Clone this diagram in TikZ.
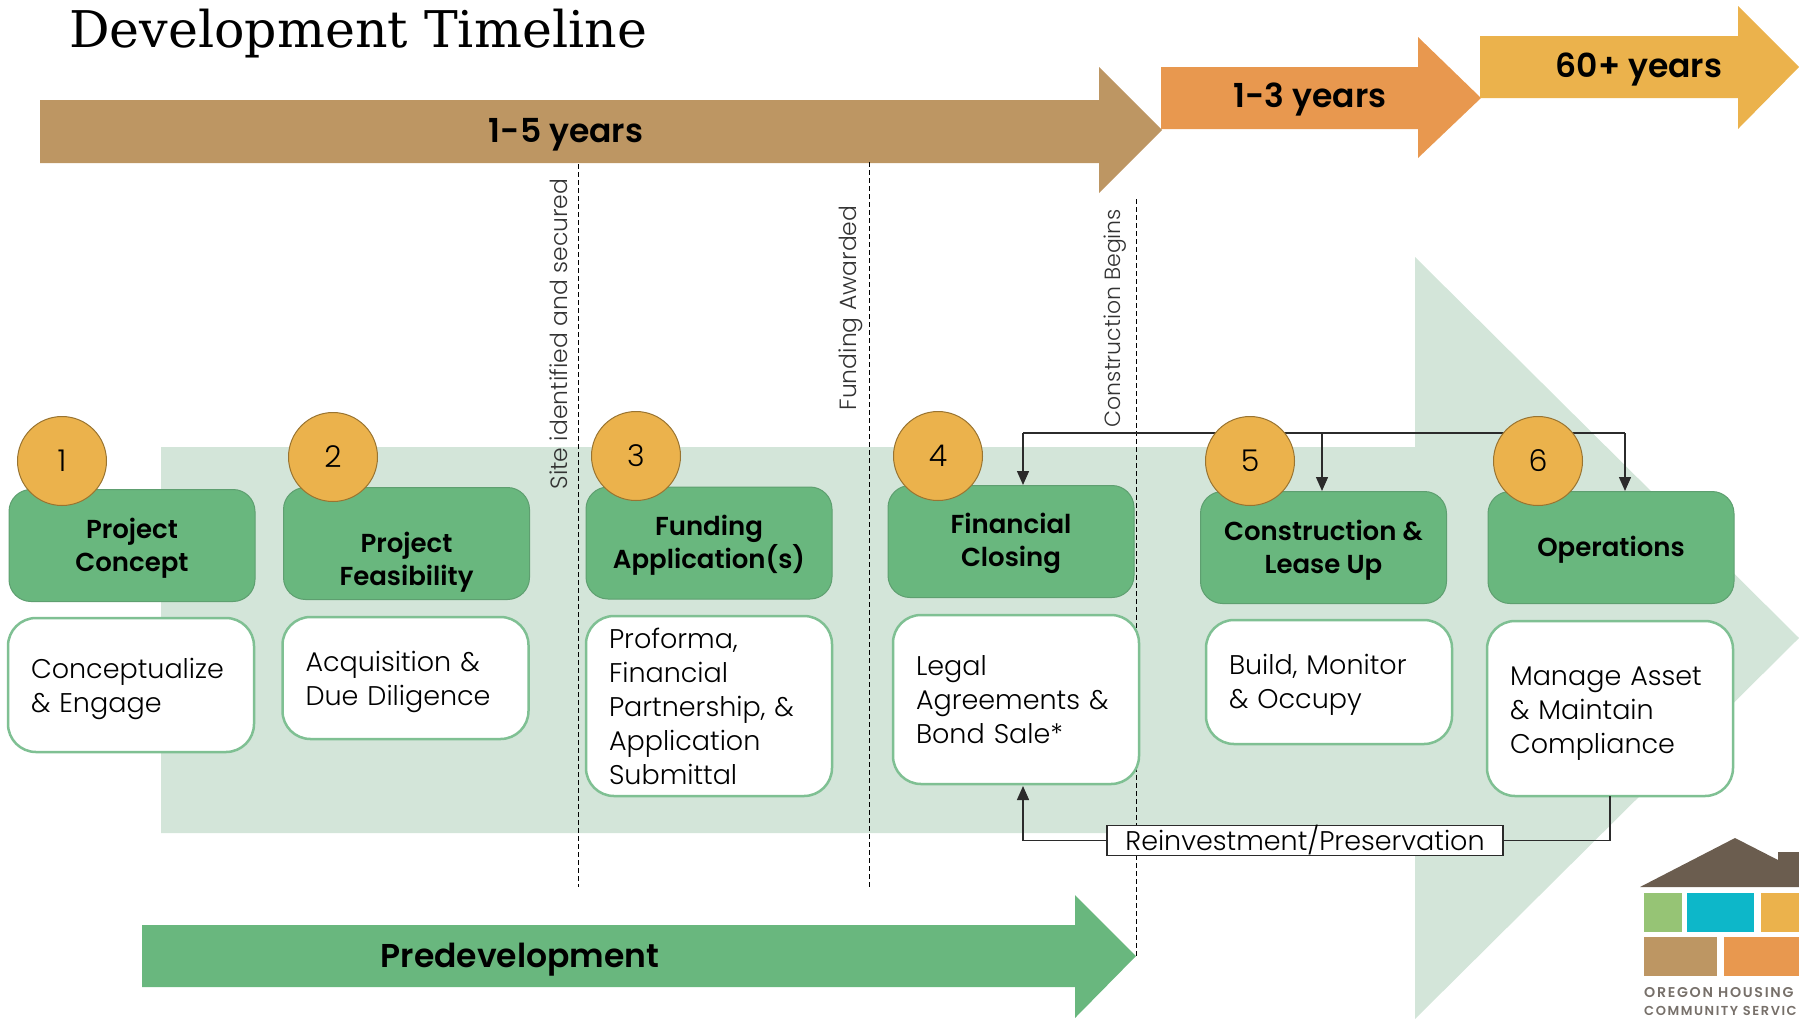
\documentclass[tikz,border=0pt]{standalone}
\usepackage{fontspec}
\usetikzlibrary{arrows.meta}
\setmainfont{Poppins}[UprightFont=* Light,BoldFont=* SemiBold]
\newfontfamily\titlefont{DejaVu Serif}
\newfontfamily\logofont{Poppins}[UprightFont=* SemiBold,LetterSpace=12]
\definecolor{palegreen}{HTML}{D3E5D9}
\definecolor{stagegreen}{HTML}{69B77E}
\definecolor{edgegreen}{HTML}{5E9F70}
\definecolor{boxedge}{HTML}{7FC093}
\definecolor{barbrown}{HTML}{BD9663}
\definecolor{barorange}{HTML}{E8984F}
\definecolor{baryellow}{HTML}{EBB24C}
\definecolor{roofbrown}{HTML}{6B5D4F}
\definecolor{logogreen}{HTML}{96C475}
\definecolor{logoteal}{HTML}{0DB7C9}
\definecolor{logotext}{HTML}{77706A}
\definecolor{wirecol}{HTML}{2B2B2B}
\begin{document}
\begin{tikzpicture}[x=1pt, y=-1pt,
    stagebox/.style = {draw=edgegreen, fill=stagegreen, rounded corners=22pt, line width=1pt, minimum width=246pt, minimum height=112pt, inner sep=0pt, align=center, font=\fontsize{26}{33}\selectfont\bfseries},
    detailbox/.style = {draw=boxedge, fill=white, rounded corners=28pt, line width=2.5pt, inner xsep=23pt, inner ysep=0pt, text width=200pt, align=left, font=\fontsize{27}{34}\selectfont},
    numdot/.style = {draw=black!35!baryellow, fill=baryellow, circle, minimum size=89pt, inner sep=0pt, line width=1pt, font=\fontsize{30}{36}\selectfont},
    barlabel/.style = {inner sep=0pt, font=\fontsize{33}{38}\selectfont\bfseries},
    milestone/.style = {rotate=90, inner sep=0pt, text=black!80, font=\fontsize{23.5}{28}\selectfont},
    marker/.style = {line width=1pt, dash pattern=on 5pt off 3pt},
    wire/.style = {draw=wirecol, line width=1.4pt},
    flow/.style = {wire, -{Triangle[length=14pt,width=12pt]}}]
  \useasboundingbox (0,0) rectangle (1799,1018);
  \fill[palegreen] (161,447) -- (1415,447) -- (1415,257) -- (1799,638) -- (1415,1019) -- (1415,833) -- (161,833) -- cycle;
  \node[inner sep=0pt, anchor=west, font=\titlefont\fontsize{50.6}{56}\selectfont] (title) at (69,34) {Development Timeline};
  \fill[barbrown] (40,100) -- (1099,100) -- (1099,67) -- (1162,130) -- (1099,193) -- (1099,163) -- (40,163) -- cycle;
  \fill[barorange] (1161,67) -- (1418,67) -- (1418,37) -- (1481,98) -- (1418,158) -- (1418,129) -- (1161,129) -- cycle;
  \fill[baryellow] (1480,36) -- (1738,36) -- (1738,6) -- (1799,67) -- (1738,129) -- (1738,98) -- (1480,98) -- cycle;
  \fill[stagegreen] (142,925) -- (1075,925) -- (1075,895) -- (1136,956) -- (1075,1018) -- (1075,987) -- (142,987) -- cycle;
  \node[barlabel] (years5) at (566,135) {1-5 years};
  \node[barlabel] (years3) at (1310,100) {1-3 years};
  \node[barlabel] (years60) at (1639,70) {60+ years};
  \node[barlabel] (predev) at (520,960) {Predevelopment};
  \coordinate (site top) at (578,164);
  \coordinate (site end) at (578,887);
  \coordinate (award top) at (869,162);
  \coordinate (award end) at (869,887);
  \coordinate (build top) at (1136,199);
  \coordinate (build end) at (1136,956);
  \draw[marker] (site top) -- (site end);
  \draw[marker] (award top) -- (award end);
  \draw[marker] (build top) -- (build end);
  \node[milestone] (site) at (559,334) {Site identified and secured};
  \node[milestone] (award) at (851,308) {Funding Awarded};
  \node[milestone, font=\fontsize{22}{28}\selectfont] (build) at (1115,318) {Construction Begins};
  \node[stagebox] (concept) at (132,545.5) {\rule{0pt}{25pt}Project\\Concept};
  \node[stagebox] (feasible) at (406.5,543.5) {\rule{0pt}{58pt}Project\\Feasibility};
  \node[stagebox] (funding) at (709,543) {\rule{0pt}{25pt}Funding\\Application(s)};
  \node[stagebox] (closing) at (1011,541.5) {\rule{0pt}{25pt}Financial\\Closing};
  \node[stagebox] (lease) at (1323.5,547.5) {\rule{0pt}{25pt}Construction \&\\Lease Up};
  \node[stagebox] (operate) at (1611,547.5) {\rule{0pt}{25pt}Operations};
  \node[detailbox, minimum height=134pt] (engage) at (131,685) {\rule{0pt}{28pt}Conceptualize\\\& Engage};
  \node[detailbox, minimum height=122pt] (diligence) at (405.5,678) {\rule{0pt}{28pt}Acquisition \&\\Due Diligence};
  \node[detailbox, minimum height=180pt] (proforma) at (709,706) {Proforma,\\Financial\\Partnership, \&\\Application\\Submittal};
  \node[detailbox, minimum height=169pt] (legal) at (1016,699.5) {Legal\\Agreements \&\\Bond Sale*};
  \node[detailbox, minimum height=124pt] (occupy) at (1329,682) {\rule{0pt}{25pt}Build, Monitor\\\& Occupy};
  \node[detailbox, minimum height=175pt] (manage) at (1610,708.5) {\rule{0pt}{29pt}Manage Asset\\\& Maintain\\Compliance};
  \coordinate (bus left) at (1023,433);
  \coordinate (bus mid) at (1322,433);
  \coordinate (bus mid end) at (1472,433);
  \coordinate (bus right) at (1625,433);
  \coordinate (into closing) at (1023,485);
  \coordinate (into lease) at (1322,491);
  \coordinate (into operate) at (1625,491);
  \coordinate (out manage) at (1610,796);
  \coordinate (into legal) at (1023,786);
  \draw[wire] (bus left) -- (bus right);
  \draw[wire, line width=2.2pt] (bus mid) -- (bus mid end);
  \draw[flow] (bus left) -- (into closing);
  \draw[flow] (bus mid) -- (into lease);
  \draw[flow] (bus right) -- (into operate);
  \node[draw=wirecol, fill=white, line width=1.4pt, minimum width=396pt, minimum height=29pt, inner sep=0pt, font=\fontsize{27}{30}\selectfont] (reinvest) at (1305,840.5) {Reinvestment/Preservation};
  \draw[wire] (out manage) |- (reinvest.east);
  \draw[flow] (reinvest.west) -| (into legal);
  \node[numdot] (one) at (62,461) {1};
  \node[numdot] (two) at (333,457) {2};
  \node[numdot] (three) at (636,456) {3};
  \node[numdot] (four) at (938,456) {4};
  \node[numdot] (five) at (1250,461) {5};
  \node[numdot] (six) at (1538,461) {6};
  \fill[roofbrown] (1640,887) -- (1735,838) -- (1778,860) -- (1778,852) -- (1799,852) -- (1799,887) -- cycle;
  \fill[logogreen] (1644,893) rectangle (1682,932);
  \fill[logoteal] (1687,893) rectangle (1754,932);
  \fill[baryellow] (1761,893) rectangle (1799,932);
  \fill[barbrown] (1644,937) rectangle (1717,976);
  \fill[barorange] (1724,937) rectangle (1799,976);
  \node[inner sep=0pt, anchor=west, text=logotext, font=\logofont\fontsize{14.2}{16}\selectfont] (oregon) at (1644,993) {OREGON HOUSING};
  \node[inner sep=0pt, anchor=west, text=logotext, font=\logofont\fontsize{13}{15}\selectfont] (community) at (1644,1011) {COMMUNITY SERVIC};
\end{tikzpicture}
\end{document}
